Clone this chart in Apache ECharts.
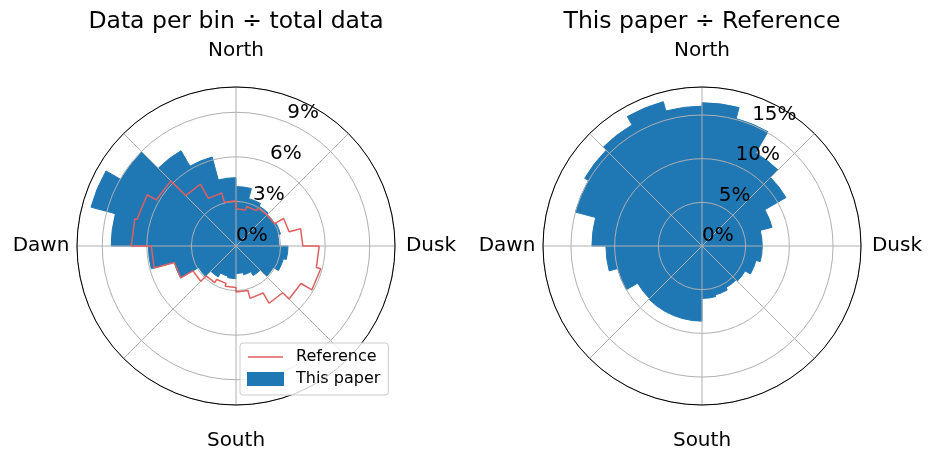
<!DOCTYPE html>
<html>
<head>
<meta charset="utf-8">
<script src="https://cdn.jsdelivr.net/npm/echarts@6/dist/echarts.min.js"></script>
<style>
html,body{margin:0;padding:0;background:#ffffff;}
#chart{width:934px;height:450px;}
</style>
</head>
<body>
<div id="chart"></div>
<script>
// 24 sectors of 15°, clockwise from North (Dusk = 90°, South = 180°, Dawn = 270°)
const sectorLabels = ['0°','15°','30°','45°','60°','75°','90°','105°','120°','135°','150°','165°',
                      '180°','195°','210°','225°','240°','255°','270°','285°','300°','315°','330°','345°'];
const sectorWidth = 15;

// Left panel: data per bin / total data (%)
const paperShare = [4.0, 3.3, 3.1, 3.0, 3.1, 2.9, 3.5, 3.3, 2.9, 2.3, 2.0, 1.85,
                    2.2, 2.1, 2.4, 2.9, 4.3, 5.9, 8.4, 10.1, 8.95, 7.4, 6.2, 4.6];
const referenceShare = [2.5, 2.75, 2.95, 3.0, 3.7, 4.5, 5.6, 5.9, 5.05, 4.45, 3.65, 3.1,
                        2.8, 2.6, 2.85, 3.35, 4.3, 5.7, 7.05, 6.9, 6.2, 4.8, 3.7, 3.05];
// Right panel: this paper / reference (%)
const paperOverReference = [16.4, 15.1, 12.3, 11.1, 8.3, 6.9, 6.9, 6.4, 5.7, 5.5, 5.8, 6.0,
                            8.6, 8.6, 8.6, 8.5, 10.0, 11.0, 12.6, 15.0, 15.5, 16.0, 17.1, 16.0];

const leftRadiusTicks = [0, 3, 6, 9];
const rightRadiusTicks = [0, 5, 10, 15];
const directionLabels = ['North', 'Dusk', 'South', 'Dawn'];
const directionAngles = [0, 90, 180, 270];
const leftTitle = 'Data per bin \u00f7 total data';
const rightTitle = 'This paper \u00f7 Reference';
const seriesNames = ['Reference', 'This paper'];

// ---- styling / layout ----
const FONT = 'DejaVu Sans';
const BLUE = '#1f77b4';
const RED = '#e06060';
const GRID = '#b0b0b0';
const LEFT_C = [236, 246];
const RIGHT_C = [702, 246];
const R = 159;
const LEFT_MAX = 10.7;
const RIGHT_MAX = 18.2;
const LABEL_ANGLE = 22.5;

function stepLoop(vals) {
  const pts = [];
  vals.forEach(function (v, i) {
    pts.push([v, i * sectorWidth]);
    pts.push([v, (i + 1) * sectorWidth]);
  });
  pts.push([vals[0], 360]);
  return pts;
}

function barAngle(pi) {
  return {polarIndex: pi, type: 'category', data: sectorLabels, startAngle: 90, clockwise: true,
    boundaryGap: true, axisLine: {show: false}, axisTick: {show: false}, axisLabel: {show: false},
    splitLine: {show: false}, splitArea: {show: false}, z: 1};
}
function barRadius(pi, max) {
  return {polarIndex: pi, type: 'value', min: 0, max: max, axisLine: {show: false},
    axisTick: {show: false}, axisLabel: {show: false}, splitLine: {show: false}, z: 1};
}
function gridAngle(pi) {
  return {polarIndex: pi, type: 'value', min: 0, max: 360, interval: 45, startAngle: 90, clockwise: true, z: 3,
    axisLine: {show: true, lineStyle: {color: '#000000', width: 1}},
    axisTick: {show: false},
    axisLabel: {show: true, margin: 1,
      formatter: function (v) {
        const k = directionAngles.indexOf(v);
        return k < 0 ? '' : '{d|' + directionLabels[k] + '}';
      },
      rich: {d: {width: 70, height: 70, lineHeight: 70, align: 'center', verticalAlign: 'middle',
                 fontSize: 20, fontFamily: FONT, color: '#000000'}}},
    splitLine: {show: true, lineStyle: {color: GRID, width: 1}}};
}
function gridRadius(pi, max, step) {
  return {polarIndex: pi, type: 'value', min: 0, max: max, interval: step, z: 2,
    axisLine: {show: false}, axisTick: {show: false}, axisLabel: {show: false},
    splitLine: {show: true, lineStyle: {color: GRID, width: 1}}};
}
function tickLabels(pi, ticks) {
  return {type: 'scatter', coordinateSystem: 'polar', polarIndex: pi, silent: true, z: 5,
    data: ticks.map(function (t) { return [t, LABEL_ANGLE]; }),
    symbolSize: 0, itemStyle: {color: '#000000', opacity: 1},
    label: {show: true, position: [0, 0], align: 'left', verticalAlign: 'bottom',
      formatter: function (p) { return p.value[0] + '%'; },
      fontSize: 20, fontFamily: FONT, color: '#000000', opacity: 1, textBorderWidth: 0}};
}

const chart = echarts.init(document.getElementById('chart'), null, {renderer: 'canvas'});
chart.setOption({
  animation: false,
  backgroundColor: '#ffffff',
  textStyle: {fontFamily: FONT},
  title: [
    {text: leftTitle, left: LEFT_C[0], top: 10, textAlign: 'center', padding: 0,
     textStyle: {fontSize: 23.5, fontWeight: 'normal', fontFamily: FONT, color: '#000000'}},
    {text: rightTitle, left: RIGHT_C[0], top: 10, textAlign: 'center', padding: 0,
     textStyle: {fontSize: 23.5, fontWeight: 'normal', fontFamily: FONT, color: '#000000'}}
  ],
  legend: {
    data: [{name: seriesNames[0], icon: 'path://M0,0L35,0L35,1.5L0,1.5Z'},
           {name: seriesNames[1], icon: 'rect'}],
    orient: 'vertical', left: 240, top: 343, itemWidth: 35, itemHeight: 12, itemGap: 6,
    padding: [6, 8, 8, 7], backgroundColor: 'rgba(255,255,255,0.8)', borderColor: '#cccccc',
    borderWidth: 1, borderRadius: 3, selectedMode: false, z: 6,
    textStyle: {fontSize: 16, fontFamily: FONT, color: '#000000', padding: [0, 0, 0, 8]}
  },
  polar: [
    {center: LEFT_C, radius: R},
    {center: LEFT_C, radius: R},
    {center: RIGHT_C, radius: R},
    {center: RIGHT_C, radius: R}
  ],
  angleAxis: [barAngle(0), gridAngle(1), barAngle(2), gridAngle(3)],
  radiusAxis: [barRadius(0, LEFT_MAX), gridRadius(1, LEFT_MAX, 3), barRadius(2, RIGHT_MAX), gridRadius(3, RIGHT_MAX, 5)],
  series: [
    {name: seriesNames[1], type: 'bar', coordinateSystem: 'polar', polarIndex: 0, data: paperShare,
     barCategoryGap: '0%', barGap: '0%', z: 1, silent: true,
     itemStyle: {color: BLUE, borderColor: BLUE, borderWidth: 1}},
    {name: seriesNames[0], type: 'line', coordinateSystem: 'polar', polarIndex: 1, data: stepLoop(referenceShare),
     symbol: 'none', showSymbol: false, z: 4, silent: true,
     lineStyle: {color: RED, width: 1.5}, itemStyle: {color: RED}},
    tickLabels(1, leftRadiusTicks),
    {name: 'ratio', type: 'bar', coordinateSystem: 'polar', polarIndex: 2, data: paperOverReference,
     barCategoryGap: '0%', barGap: '0%', z: 1, silent: true,
     itemStyle: {color: BLUE, borderColor: BLUE, borderWidth: 1}},
    tickLabels(3, rightRadiusTicks)
  ]
});
</script>
</body>
</html>
